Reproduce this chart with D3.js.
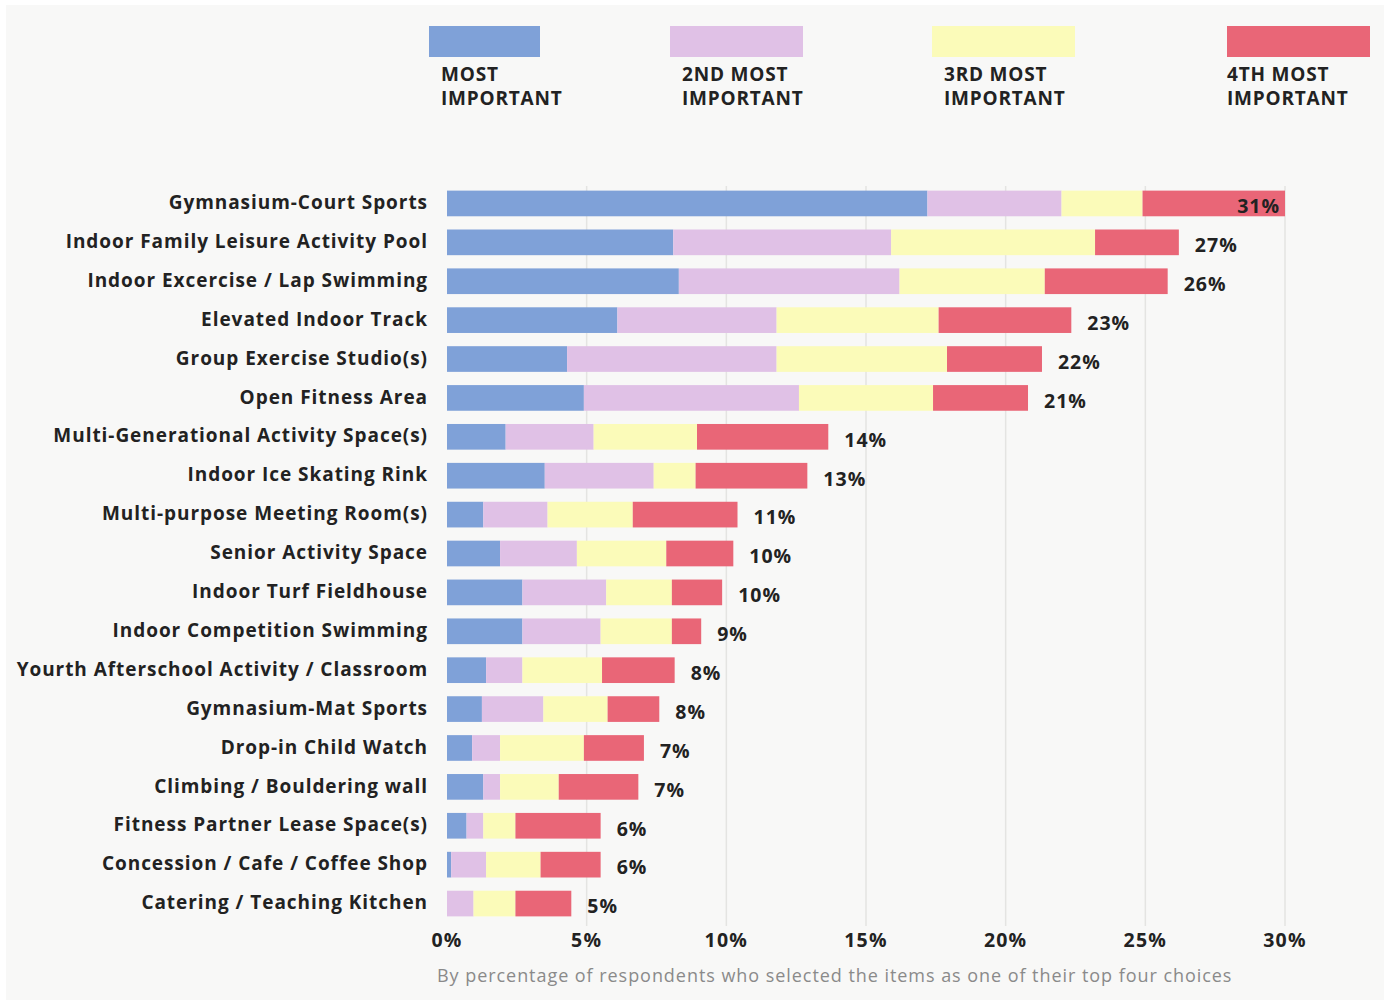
<!DOCTYPE html>
<html>
<head>
<meta charset="utf-8">
<script src="https://cdn.jsdelivr.net/npm/d3@7"></script>
<style>
  body { margin: 0; background: #fff; }
  svg text { font-family: "Open Sans", Lato, sans-serif; }
</style>
</head>
<body>
<div id="chart"></div>
<script>
// data (percent of respondents)
var categories = [
  "Gymnasium-Court Sports",
  "Indoor Family Leisure Activity Pool",
  "Indoor Excercise / Lap Swimming",
  "Elevated Indoor Track",
  "Group Exercise Studio(s)",
  "Open Fitness Area",
  "Multi-Generational Activity Space(s)",
  "Indoor Ice Skating Rink",
  "Multi-purpose Meeting Room(s)",
  "Senior Activity Space",
  "Indoor Turf Fieldhouse",
  "Indoor Competition Swimming",
  "Yourth Afterschool Activity / Classroom",
  "Gymnasium-Mat Sports",
  "Drop-in Child Watch",
  "Climbing / Bouldering wall",
  "Fitness Partner Lease Space(s)",
  "Concession / Cafe / Coffee Shop",
  "Catering / Teaching Kitchen"
];
var most   = [17.2, 8.1, 8.3, 6.1, 4.3, 4.9, 2.1, 3.5, 1.3, 1.9, 2.7, 2.7, 1.4, 1.25, 0.9, 1.3, 0.7, 0.15, 0];
var second = [4.8, 7.8, 7.9, 5.7, 7.5, 7.7, 3.15, 3.9, 2.3, 2.75, 3.0, 2.8, 1.3, 2.2, 1.0, 0.6, 0.6, 1.25, 0.95];
var third  = [2.9, 7.3, 5.2, 5.8, 6.1, 4.8, 3.7, 1.5, 3.05, 3.2, 2.35, 2.55, 2.85, 2.3, 3.0, 2.1, 1.15, 1.95, 1.5];
var fourth = [5.1, 3.0, 4.4, 4.75, 3.4, 3.4, 4.7, 4.0, 3.75, 2.4, 1.8, 1.05, 2.6, 1.85, 2.15, 2.85, 3.05, 2.15, 2.0];
var totalLabels = ["31%", "27%", "26%", "23%", "22%", "21%", "14%", "13%", "11%", "10%",
                   "10%", "9%", "8%", "8%", "7%", "7%", "6%", "6%", "5%"];
var seriesNames = [["MOST", "IMPORTANT"], ["2ND MOST", "IMPORTANT"], ["3RD MOST", "IMPORTANT"], ["4TH MOST", "IMPORTANT"]];
var colors = ["#7fa1d8", "#e0c1e6", "#fbfbb9", "#e96677"];
var xTicks = [0, 5, 10, 15, 20, 25, 30];

var width = 1384, height = 1002;
var svg = d3.select("#chart").append("svg")
  .attr("width", width)
  .attr("height", height);

svg.append("rect")
  .attr("x", 6).attr("y", 5)
  .attr("width", width - 6).attr("height", 995)
  .attr("fill", "#f8f8f7");

var x = d3.scaleLinear().domain([0, 30]).range([447, 1285]);
var y = d3.scaleBand().domain(categories).range([184, 923]).paddingInner(0.34).paddingOuter(0.17);

var rows = categories.map(function (c, i) {
  return {cat: c, most: most[i], second: second[i], third: third[i], fourth: fourth[i], label: totalLabels[i]};
});
var keys = ["most", "second", "third", "fourth"];
var stacked = d3.stack().keys(keys)(rows);

// grid
svg.append("g").selectAll("line")
  .data(xTicks.slice(1))
  .enter().append("line")
  .attr("x1", function (d) { return x(d); })
  .attr("x2", function (d) { return x(d); })
  .attr("y1", 186).attr("y2", 926)
  .attr("stroke", "#e4e4e2")
  .attr("stroke-width", 1.5);

// bars
svg.append("g").selectAll("g")
  .data(stacked)
  .enter().append("g")
  .attr("fill", function (d, i) { return colors[i]; })
  .selectAll("rect")
  .data(function (d) { return d; })
  .enter().append("rect")
  .attr("x", function (d) { return x(d[0]); })
  .attr("y", function (d) { return y(d.data.cat); })
  .attr("width", function (d) { return Math.max(0, x(d[1]) - x(d[0])); })
  .attr("height", y.bandwidth());

// category labels
svg.append("g").selectAll("text")
  .data(categories)
  .enter().append("text")
  .attr("x", 428)
  .attr("y", function (d) { return y(d) + y.bandwidth() / 2 - 1; })
  .attr("dy", "0.35em")
  .attr("text-anchor", "end")
  .attr("font-size", 19)
  .attr("font-weight", 700)
  .attr("letter-spacing", 0.95)
  .attr("fill", "#222")
  .text(function (d) { return d; });

// total labels
var last = stacked[stacked.length - 1];
svg.append("g").selectAll("text")
  .data(last)
  .enter().append("text")
  .attr("x", function (d) {
    var end = x(d[1]);
    return end >= x(30) - 2 ? end - 5 : end + 16;
  })
  .attr("y", function (d) { return y(d.data.cat) + y.bandwidth() / 2 + 3; })
  .attr("dy", "0.35em")
  .attr("text-anchor", function (d) { return x(d[1]) >= x(30) - 2 ? "end" : "start"; })
  .attr("font-size", 19.5)
  .attr("font-weight", 700)
  .attr("letter-spacing", 1)
  .attr("fill", "#222")
  .text(function (d) { return d.data.label; });

// x axis labels
svg.append("g").selectAll("text")
  .data(xTicks)
  .enter().append("text")
  .attr("x", function (d) { return x(d); })
  .attr("y", 947)
  .attr("text-anchor", "middle")
  .attr("font-size", 19.5)
  .attr("font-weight", 700)
  .attr("letter-spacing", 1.2)
  .attr("fill", "#222")
  .text(function (d) { return d + "%"; });

svg.append("text")
  .attr("x", 437).attr("y", 982)
  .attr("font-size", 18)
  .attr("letter-spacing", 0.95)
  .attr("fill", "#8a8a8a")
  .text("By percentage of respondents who selected the items as one of their top four choices");

// legend
var legendX = [429, 670, 932, 1227];
var legendW = [111, 133, 143, 143];
var lg = svg.append("g").selectAll("g")
  .data(seriesNames)
  .enter().append("g")
  .attr("transform", function (d, i) { return "translate(" + legendX[i] + ",26)"; });
lg.append("rect")
  .attr("width", function (d, i) { return legendW[i]; })
  .attr("height", 31)
  .attr("fill", function (d, i) { return colors[i]; });
lg.append("text")
  .attr("x", function (d, i) { return i === 3 ? 0 : 12; })
  .attr("y", 55)
  .attr("font-size", 19)
  .attr("font-weight", 700)
  .attr("letter-spacing", 0.8)
  .attr("fill", "#222")
  .selectAll("tspan")
  .data(function (d) { return d; })
  .enter().append("tspan")
  .attr("x", function () { return d3.select(this.parentNode).attr("x"); })
  .attr("dy", function (d, i) { return i === 0 ? 0 : 24; })
  .text(function (d) { return d; });
</script>
</body>
</html>
